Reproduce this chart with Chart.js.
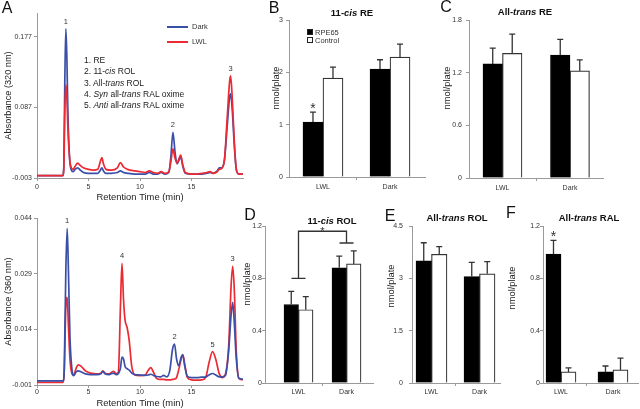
<!DOCTYPE html>
<html>
<head>
<meta charset="utf-8">
<script src="https://cdn.jsdelivr.net/npm/chart.js@4/dist/chart.umd.min.js"></script>
<style>
  html, body { margin: 0; padding: 0; background: #fff; }
  #fig { position: relative; width: 640px; height: 409px; overflow: hidden;
         font-family: "Liberation Sans", Arial, sans-serif; color: #222; }
  #fig canvas { position: absolute; left: 0; top: 0; }
  .t { position: absolute; white-space: nowrap; line-height: 1; }
  .c { transform: translate(-50%, -50%); }
  .letter { font-size: 16px; color: #111; }
  .ptitle { font-size: 9.5px; font-weight: bold; color: #111; }
  .ytitle { font-size: 9.3px; color: #222; transform: translate(-50%, -50%) rotate(-90deg); }
  .list { font-size: 8.5px; line-height: 11.3px; color: #222; }
  .leg { font-size: 7.5px; color: #333; transform: translateY(-50%); }
  .legline { position: absolute; height: 0; border-top: 2px solid; }
  .sq { position: absolute; width: 6px; height: 6px; box-sizing: border-box; border: 1px solid #222; }
</style>
</head>
<body>
<div id="fig">
  <canvas id="chromTop" width="640" height="409"></canvas>
  <canvas id="chromBot" width="640" height="409"></canvas>
  <canvas id="barB" width="640" height="409"></canvas>
  <canvas id="barC" width="640" height="409"></canvas>
  <canvas id="barD" width="640" height="409"></canvas>
  <canvas id="barE" width="640" height="409"></canvas>
  <canvas id="barF" width="640" height="409"></canvas>

  <div class="t letter c" style="left:7px;top:8px">A</div>
  <div class="t letter c" style="left:274px;top:8px">B</div>
  <div class="t letter c" style="left:446px;top:7px">C</div>
  <div class="t letter c" style="left:250px;top:215px">D</div>
  <div class="t letter c" style="left:390px;top:216px">E</div>
  <div class="t letter c" style="left:511px;top:213px">F</div>

  <div class="t ptitle c" style="left:352px;top:13px">11-<i>cis</i> RE</div>
  <div class="t ptitle c" style="left:525px;top:12px">All-<i>trans</i> RE</div>
  <div class="t ptitle c" style="left:332px;top:221px">11-<i>cis</i> ROL</div>
  <div class="t ptitle c" style="left:457px;top:218px">All-<i>trans</i> ROL</div>
  <div class="t ptitle c" style="left:589px;top:218px">All-<i>trans</i> RAL</div>

  <div class="t ytitle" style="left:277px;top:88px">nmol/plate</div>
  <div class="t ytitle" style="left:448px;top:88px">nmol/plate</div>
  <div class="t ytitle" style="left:248px;top:284px">nmol/plate</div>
  <div class="t ytitle" style="left:392px;top:286px">nmol/plate</div>
  <div class="t ytitle" style="left:513px;top:288px">nmol/plate</div>

  <div class="t list" style="left:84px;top:55px">1. RE<br>2. 11-<i>cis</i> ROL<br>3. All-<i>trans</i> ROL<br>4. <i>Syn</i> all-<i>trans</i> RAL oxime<br>5. <i>Anti</i> all-<i>trans</i> RAL oxime</div>

  <div class="legline" style="left:167px;top:26px;width:21px;border-color:#3a50a8"></div>
  <div class="legline" style="left:167px;top:41px;width:21px;border-color:#ec2a33"></div>
  <div class="t leg" style="left:192px;top:27px">Dark</div>
  <div class="t leg" style="left:192px;top:42px">LWL</div>

  <div class="sq" style="left:307px;top:29px;background:#000"></div>
  <div class="sq" style="left:307px;top:37px;background:#fff"></div>
  <div class="t leg" style="left:315px;top:32.5px">RPE65</div>
  <div class="t leg" style="left:315px;top:40.5px">Control</div>
</div>

<script>
// ---- panel A, 320 nm trace (time in min, absorbance) ----
const timeTop = [0, 2.5, 2.6, 2.7, 2.8, 2.9, 3.0, 3.15, 3.3, 3.5, 3.7, 3.95, 4.2, 4.5, 5.0, 5.5, 5.9, 6.15, 6.3, 6.45,
  6.7, 7.2, 7.8, 8.1, 8.4, 8.8, 9.5, 10.0, 10.5, 10.9, 11.3, 11.7, 12.05, 12.4, 12.8, 13.0, 13.2, 13.4, 13.6, 13.8,
  13.95, 14.15, 14.4, 15.0, 15.5, 16.0, 16.5, 16.8, 17.1, 17.5, 17.7, 17.9, 18.2, 18.45, 18.7, 18.8, 18.95, 19.15, 19.35, 19.6, 20.0];
const darkTop = [0, 0, 0.010, 0.120, 0.187, 0.150, 0.080, 0.025, 0.008, 0.005, 0.008, 0.010, 0.007, 0.004, 0.003, 0.003, 0.003, 0.007, 0.010, 0.006,
  0.003, 0.003, 0.004, 0.006, 0.004, 0.003, 0.002, 0.002, 0.002, 0.004, 0.002, 0.002, 0.004, 0.002, 0.004, 0.025, 0.055, 0.030, 0.015, 0.020,
  0.024, 0.012, 0.003, 0.002, 0.002, 0.002, 0.003, 0.004, 0.003, 0.006, 0.010, 0.010, 0.020, 0.060, 0.100, 0.104, 0.085, 0.040, 0.008, 0.002, 0.002];
const lwlTop = [0, 0, 0.008, 0.080, 0.116, 0.100, 0.060, 0.025, 0.011, 0.008, 0.012, 0.016, 0.013, 0.010, 0.008, 0.007, 0.008, 0.018, 0.023, 0.015,
  0.008, 0.007, 0.010, 0.0165, 0.011, 0.008, 0.006, 0.005, 0.004, 0.006, 0.004, 0.003, 0.005, 0.003, 0.005, 0.018, 0.034, 0.022, 0.016, 0.022,
  0.026, 0.014, 0.004, 0.002, 0.002, 0.003, 0.004, 0.005, 0.003, 0.005, 0.008, 0.009, 0.020, 0.070, 0.120, 0.127, 0.100, 0.045, 0.008, 0.002, 0.002];
const yTicksTop = [-0.003, 0.087, 0.177];
const peakNamesTop = ['1', '2', '3'];
const peakTimesTop = [2.8, 13.2, 18.8];

// ---- panel A, 360 nm trace ----
const timeBot = [0, 2.55, 2.65, 2.8, 2.93, 3.05, 3.2, 3.4, 3.55, 3.8, 4.0, 4.3, 4.7, 5.2, 5.8, 6.2, 6.4, 6.6, 7.0, 7.4,
  7.7, 7.9, 8.1, 8.25, 8.4, 8.55, 8.75, 8.95, 9.2, 9.5, 10.0, 10.5, 10.8, 11.05, 11.3, 11.6, 12.0, 12.3, 12.6, 12.9,
  13.15, 13.35, 13.55, 13.75, 14.0, 14.15, 14.35, 14.6, 15.0, 15.5, 16.0, 16.4, 16.7, 17.05, 17.35, 17.7, 18.0, 18.3, 18.6, 18.85,
  19.0, 19.15, 19.35, 19.6, 20.0];
const darkBot = [0.0001, 0.0001, 0.004, 0.030, 0.0412, 0.030, 0.012, 0.003, 0.0015, 0.0025, 0.0028, 0.0025, 0.0020, 0.0018, 0.0018, 0.0020, 0.0027, 0.0020, 0.0018, 0.0022,
  0.0018, 0.0021, 0.0035, 0.0065, 0.0060, 0.0040, 0.0034, 0.0030, 0.0022, 0.0018, 0.0017, 0.0016, 0.0017, 0.0019, 0.0016, 0.0013, 0.0012, 0.0016, 0.0012, 0.0030,
  0.0085, 0.0100, 0.0060, 0.0042, 0.0065, 0.0071, 0.0040, 0.0013, 0.0010, 0.0010, 0.0011, 0.0012, 0.0017, 0.0021, 0.0017, 0.0012, 0.0012, 0.0016, 0.0080, 0.0180,
  0.0213, 0.0160, 0.0060, 0.0008, 0.0006];
const lwlBot = [-0.0003, -0.0003, 0.003, 0.020, 0.0226, 0.015, 0.006, 0.002, 0.0017, 0.0035, 0.0044, 0.0040, 0.0028, 0.0022, 0.0020, 0.0022, 0.0028, 0.0022, 0.0020, 0.0027,
  0.0021, 0.0025, 0.020, 0.0318, 0.022, 0.0165, 0.0145, 0.011, 0.004, 0.0017, 0.0015, 0.0017, 0.0030, 0.0037, 0.0025, 0.0008, 0.0005, 0.0005, 0.0004, 0.0004,
  0.0005, 0.0006, 0.0010, 0.0030, 0.0060, 0.0072, 0.0045, 0.0010, 0.0004, 0.0003, 0.0004, 0.0012, 0.0050, 0.0080, 0.0060, 0.0020, 0.0010, 0.0020, 0.0090, 0.0260,
  0.0310, 0.0250, 0.0080, 0.0008, 0.0004];
const yTicksBot = [-0.001, 0.014, 0.029, 0.044];
const peakNamesBot = ['1', '4', '2', '5', '3'];
const peakTimesBot = [2.93, 8.25, 13.35, 17.05, 19.0];
const timeTicks = [0, 5, 10, 15];

// ---- bar panels (nmol/plate), groups LWL / Dark ----
const groups = ['LWL', 'Dark'];
const rpeB = [1.05, 2.06], rpeErrB = [0.19, 0.18], ctrlB = [1.89, 2.29], ctrlErrB = [0.21, 0.25];
const rpeC = [1.30, 1.40], rpeErrC = [0.18, 0.18], ctrlC = [1.42, 1.22], ctrlErrC = [0.22, 0.125];
const rpeD = [0.60, 0.88], rpeErrD = [0.10, 0.09], ctrlD = [0.56, 0.91], ctrlErrD = [0.10, 0.10];
const rpeE = [3.50, 3.05], rpeErrE = [0.52, 0.41], ctrlE = [3.69, 3.13], ctrlErrE = [0.22, 0.35];
const rpeF = [0.985, 0.085], rpeErrF = [0.105, 0.045], ctrlF = [0.085, 0.10], ctrlErrF = [0.03, 0.09];
const starB = [true, false], starF = [true, false];
const ticksB = [0, 1, 2, 3];
const ticksC = [0, 0.6, 1.2, 1.8];
const ticksD = [0, 0.4, 0.8, 1.2];
const ticksE = [0, 1.5, 3, 4.5];
const ticksF = [0, 0.4, 0.8, 1.2];
const bracketD = [0.80, 1.16, 1.07]; // LWL drop, bracket level, Dark drop

const BLUE = '#3a50a8', RED = '#ec2a33', AXIS = '#9a9a9a';
const FONT = 'Liberation Sans';
Chart.defaults.font.family = FONT;
Chart.defaults.color = '#333';

const points = (xs, ys) => xs.map((x, i) => ({ x: x, y: ys[i] }));

// numbers over the peaks, placed from the traces themselves
const peakLabels = {
  id: 'peakLabels',
  afterDatasetsDraw(chart, args, opts) {
    const { ctx, scales: { x, y } } = chart;
    ctx.save();
    ctx.font = '7.5px "' + FONT + '"';
    ctx.fillStyle = '#333';
    ctx.textAlign = 'center';
    ctx.textBaseline = 'middle';
    opts.names.forEach((name, k) => {
      const t = opts.times[k];
      let top = -Infinity;
      chart.data.datasets.forEach(ds => ds.data.forEach(p => {
        if (Math.abs(p.x - t) < 0.2 && p.y > top) top = p.y;
      }));
      ctx.fillText(name, x.getPixelForValue(t), y.getPixelForValue(top) - 7);
    });
    ctx.restore();
  }
};

function chromatogram(id, area, times, dark, lwl, yTicks, yMax, yTitle, names, peakTimes, redOnTop, xPad) {
  new Chart(document.getElementById(id), {
    type: 'line',
    data: {
      datasets: [
        { label: 'Dark', data: points(times, dark), borderColor: BLUE, order: redOnTop ? 1 : 0 },
        { label: 'LWL', data: points(times, lwl), borderColor: RED, order: redOnTop ? 0 : 1 }
      ]
    },
    plugins: [peakLabels],
    options: {
      responsive: false,
      animation: false,
      layout: { padding: { left: 0, top: area.top, right: 640 - area.right, bottom: 409 - area.bottom - area.xh } },
      elements: {
        point: { radius: 0 },
        line: { borderWidth: 1.7, cubicInterpolationMode: 'monotone' }
      },
      plugins: {
        legend: { display: false },
        tooltip: { enabled: false },
        peakLabels: { names: names, times: peakTimes }
      },
      scales: {
        x: {
          type: 'linear', min: 0, max: 20,
          border: { color: AXIS },
          grid: { drawOnChartArea: false, tickLength: 3, color: AXIS },
          ticks: { font: { size: 7 }, padding: xPad, maxRotation: 0 },
          afterBuildTicks: s => { s.ticks = timeTicks.map(v => ({ value: v })); },
          afterFit: s => { s.height = area.xh; },
          title: { display: true, text: 'Retention Time (min)', font: { size: 9.4 }, color: '#222', padding: 0 }
        },
        y: {
          min: yTicks[0], max: yMax,
          border: { color: AXIS },
          grid: { drawOnChartArea: false, tickLength: 3, color: AXIS },
          ticks: { font: { size: 7 }, padding: 2, callback: v => v.toFixed(3) },
          afterBuildTicks: s => { s.ticks = yTicks.map(v => ({ value: v })); },
          afterFit: s => { s.width = area.left; },
          title: { display: true, text: yTitle, font: { size: 9.2 }, color: '#222', padding: { top: 2.5, bottom: 0 } }
        }
      }
    }
  });
}

chromatogram('chromTop', { left: 37, top: 13, right: 243, bottom: 178, xh: 25 },
  timeTop, darkTop, lwlTop, yTicksTop, 0.207, 'Absorbance (320 nm)', peakNamesTop, peakTimesTop, true, 2);
chromatogram('chromBot', { left: 37, top: 218, right: 243, bottom: 385, xh: 24 },
  timeBot, darkBot, lwlBot, yTicksBot, 0.044, 'Absorbance (360 nm)', peakNamesBot, peakTimesBot, false, 0);

// upper error bars and asterisks
const errorBars = {
  id: 'errorBars',
  afterDatasetsDraw(chart) {
    const ctx = chart.ctx, y = chart.scales.y;
    chart.data.datasets.forEach((ds, i) => {
      chart.getDatasetMeta(i).data.forEach((bar, j) => {
        const top = y.getPixelForValue(ds.data[j].y + ds.errors[j]);
        ctx.save();
        ctx.strokeStyle = '#333';
        ctx.lineWidth = 1.3;
        ctx.beginPath();
        ctx.moveTo(bar.x, bar.y);
        ctx.lineTo(bar.x, top);
        ctx.moveTo(bar.x - 3, top);
        ctx.lineTo(bar.x + 3, top);
        ctx.stroke();
        if (ds.stars && ds.stars[j]) {
          ctx.fillStyle = '#333';
          ctx.font = '14px "' + FONT + '"';
          ctx.textAlign = 'center';
          ctx.fillText('*', bar.x, top + 0.5);
        }
        ctx.restore();
      });
    });
  }
};

// significance bracket between the two groups (panel D)
const sigBracket = {
  id: 'sigBracket',
  afterDatasetsDraw(chart, args, opts) {
    if (!opts.levels) return;
    const { ctx, scales: { x, y } } = chart;
    const xl = x.getPixelForValue(0), xr = x.getPixelForValue(1);
    const yl = y.getPixelForValue(opts.levels[0]);
    const yb = y.getPixelForValue(opts.levels[1]);
    const yr = y.getPixelForValue(opts.levels[2]);
    ctx.save();
    ctx.strokeStyle = '#333';
    ctx.lineWidth = 1.3;
    ctx.beginPath();
    ctx.moveTo(xl - 7, yl); ctx.lineTo(xl + 7, yl);
    ctx.moveTo(xl, yl); ctx.lineTo(xl, yb); ctx.lineTo(xr, yb); ctx.lineTo(xr, yr);
    ctx.moveTo(xr - 7, yr); ctx.lineTo(xr + 7, yr);
    ctx.stroke();
    ctx.fillStyle = '#333';
    ctx.font = '11px "' + FONT + '"';
    ctx.textAlign = 'center';
    ctx.fillText('*', (xl + xr) / 2, yb + 4);
    ctx.restore();
  }
};

function barPanel(id, p) {
  new Chart(document.getElementById(id), {
    type: 'bar',
    data: {
      datasets: [
        { label: 'RPE65', data: points([0, 1], p.rpe), errors: p.rpeErr, stars: p.stars,
          backgroundColor: '#000', borderColor: '#000', borderWidth: 1 },
        { label: 'Control', data: points([0, 1], p.ctrl), errors: p.ctrlErr,
          backgroundColor: '#fff', borderColor: '#333', borderWidth: 1.2 }
      ]
    },
    plugins: [errorBars, sigBracket],
    options: {
      responsive: false,
      animation: false,
      layout: { padding: { left: p.left - 20, top: p.top, right: 640 - p.right, bottom: 409 - p.bottom - 20 } },
      datasets: { bar: { barThickness: p.bar } },
      plugins: {
        legend: { display: false },
        tooltip: { enabled: false },
        sigBracket: { levels: p.bracket }
      },
      scales: {
        x: {
          type: 'linear', min: p.xMin, max: p.xMax, offset: false,
          border: { color: AXIS },
          grid: { offset: false, drawOnChartArea: false, tickLength: 3,
                  tickColor: c => (c.tick && c.tick.value === 0.5) ? AXIS : 'rgba(0,0,0,0)' },
          ticks: { font: { size: 7 }, padding: p.xPad, maxRotation: 0,
                   callback: v => (v === 0 || v === 1) ? groups[v] : '' },
          afterBuildTicks: s => { s.ticks = [0, 0.5, 1].map(v => ({ value: v })); },
          afterFit: s => { s.height = 20; }
        },
        y: {
          min: 0, max: p.ticks[p.ticks.length - 1],
          border: { color: AXIS },
          grid: { drawOnChartArea: false, tickLength: 3, color: AXIS },
          ticks: { font: { size: 7 }, padding: p.yPad, callback: v => String(v) },
          afterBuildTicks: s => { s.ticks = p.ticks.map(v => ({ value: v })); },
          afterFit: s => { s.width = 20; }
        }
      }
    }
  });
}

barPanel('barB', { left: 289, top: 20, right: 425, bottom: 177, xMin: -0.507, xMax: 1.522, bar: 20, xPad: 3, yPad: 3,
  rpe: rpeB, rpeErr: rpeErrB, ctrl: ctrlB, ctrlErr: ctrlErrB, stars: starB, ticks: ticksB });
barPanel('barC', { left: 469, top: 20, right: 603, bottom: 178, xMin: -0.496, xMax: 1.489, bar: 19.5, xPad: 3, yPad: 4,
  rpe: rpeC, rpeErr: rpeErrC, ctrl: ctrlC, ctrlErr: ctrlErrC, ticks: ticksC });
barPanel('barD', { left: 265, top: 226, right: 373, bottom: 383, xMin: -0.698, xMax: 1.552, bar: 14.5, xPad: 2, yPad: 0,
  rpe: rpeD, rpeErr: rpeErrD, ctrl: ctrlD, ctrlErr: ctrlErrD, ticks: ticksD, bracket: bracketD });
barPanel('barE', { left: 412, top: 226, right: 500, bottom: 383, xMin: -0.406, xMax: 1.427, bar: 15.5, xPad: 2, yPad: 6,
  rpe: rpeE, rpeErr: rpeErrE, ctrl: ctrlE, ctrlErr: ctrlErrE, ticks: ticksE });
barPanel('barF', { left: 543, top: 226, right: 638, bottom: 383, xMin: -0.346, xMax: 1.481, bar: 15, xPad: 2, yPad: 0,
  rpe: rpeF, rpeErr: rpeErrF, ctrl: ctrlF, ctrlErr: ctrlErrF, stars: starF, ticks: ticksF });
</script>
</body>
</html>
